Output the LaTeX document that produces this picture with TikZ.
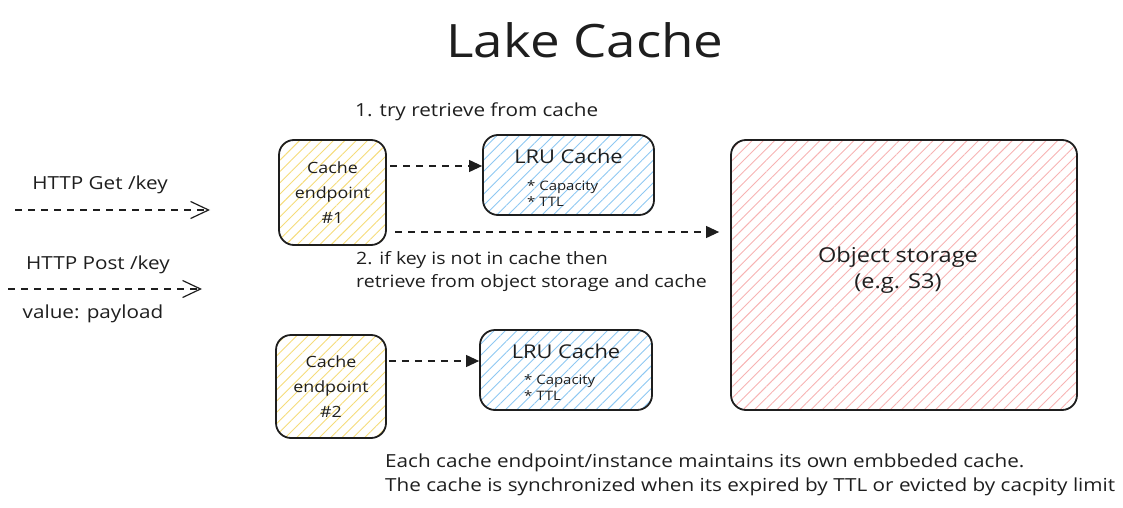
\documentclass[tikz,border=0pt]{standalone}
\usepackage{fontspec}
\setmainfont{Open Sans}[FakeStretch=1.15]
\usetikzlibrary{arrows.meta,patterns.meta,positioning}

\definecolor{penink}{HTML}{1E1E1E}
\definecolor{hatchyellow}{HTML}{F5DC7A}
\definecolor{hatchblue}{HTML}{8EC8F2}
\definecolor{hatchred}{HTML}{F7B3B3}

\tikzset{
  sketchbox/.style={draw=penink, line width=1.8pt, rounded corners=15pt, inner sep=0pt},
  hatch/.style={pattern={Lines[angle=45, distance=8pt, line width=0.9pt]}, pattern color=#1},
  flow/.style={draw=penink, line width=1.1pt, dash pattern=on 7pt off 6pt,
    -{Triangle[length=13pt, width=12pt]}},
  request/.style={draw=penink, line width=1.1pt, dash pattern=on 7pt off 6pt,
    -{Straight Barb[length=18pt, width=17pt, line width=1.2pt]}},
  label/.style={text=penink, font=\fontsize{18}{24}\selectfont, inner sep=0pt},
}

\begin{document}
\begin{tikzpicture}[x=1pt, y=-1pt]
\useasboundingbox (0,0) rectangle (1123,508);

% title
\node[text=penink, font=\fontsize{46}{52}\selectfont] (title) at (585,40) {Lake Cache};

% requests from the left
\node[label] (getlabel) at (100,185) {HTTP Get /key};
\coordinate (getfrom) at (15,210);
\coordinate (getto) at (210,210);
\draw[request] (getfrom) -- (getto);

\node[label] (postlabel) at (98,265) {HTTP Post /key};
\coordinate (postfrom) at (8,289);
\coordinate (postto) at (202,289);
\draw[request] (postfrom) -- (postto);
\node[label] (payload) at (93,314) {value: payload};

% cache endpoints
\node[sketchbox, hatch=hatchyellow, minimum width=107pt, minimum height=105pt,
  label, font=\fontsize{15.5}{25}\selectfont, align=center] (ep1) at (332.5,192.5) {Cache\\endpoint\\\#1};
\node[sketchbox, hatch=hatchyellow, minimum width=110pt, minimum height=103pt,
  label, font=\fontsize{15.5}{25}\selectfont, align=center] (ep2) at (331,386.5) {Cache\\endpoint\\\#2};

% embedded LRU caches
\node[sketchbox, hatch=hatchblue, minimum width=171pt, minimum height=80pt] (lru1) at (568.5,175) {};
\node[label, font=\fontsize{19}{24}\selectfont, below=15pt of lru1.north] (lru1title) {LRU Cache};
\node[label, font=\fontsize{13}{16}\selectfont, align=left, anchor=north west]
  (lru1items) at (527,180) {* Capacity\\* TTL};

\node[sketchbox, hatch=hatchblue, minimum width=172pt, minimum height=80pt] (lru2) at (566,370) {};
\node[label, font=\fontsize{19}{24}\selectfont, below=15pt of lru2.north] (lru2title) {LRU Cache};
\node[label, font=\fontsize{13}{16}\selectfont, align=left, anchor=north west]
  (lru2items) at (524,374) {* Capacity\\* TTL};

% object storage
\node[sketchbox, hatch=hatchred, minimum width=346pt, minimum height=270pt] (objstore) at (904,275) {};
\node[label, font=\fontsize{20.5}{26}\selectfont, align=center] (objlabel) at (898,270)
  {Object storage\\(e.g. S3)};

% lookups
\draw[flow] ([shift={(4,-26.5)}]ep1.east) -- ([yshift=9pt]lru1.west);
\node[label, anchor=west] (step1) at (355,112) {1. try retrieve from cache};

\draw[flow] ([shift={(9,39.5)}]ep1.east) -- ([shift={(-11,-43)}]objstore.west);
\node[label, font=\fontsize{17}{23}\selectfont, anchor=north west, align=left] (step2) at (356,251)
  {2. if key is not in cache then\\retrieve from object storage and cache};

\draw[flow] ([shift={(2,-25.5)}]ep2.east) -- ([yshift=9pt]lru2.west);

% note
\node[label, anchor=north west, align=left] (note) at (385,454)
  {Each cache endpoint/instance maintains its own embbeded cache.\\
   The cache is synchronized when its expired by TTL or evicted by cacpity limit};
\end{tikzpicture}
\end{document}
